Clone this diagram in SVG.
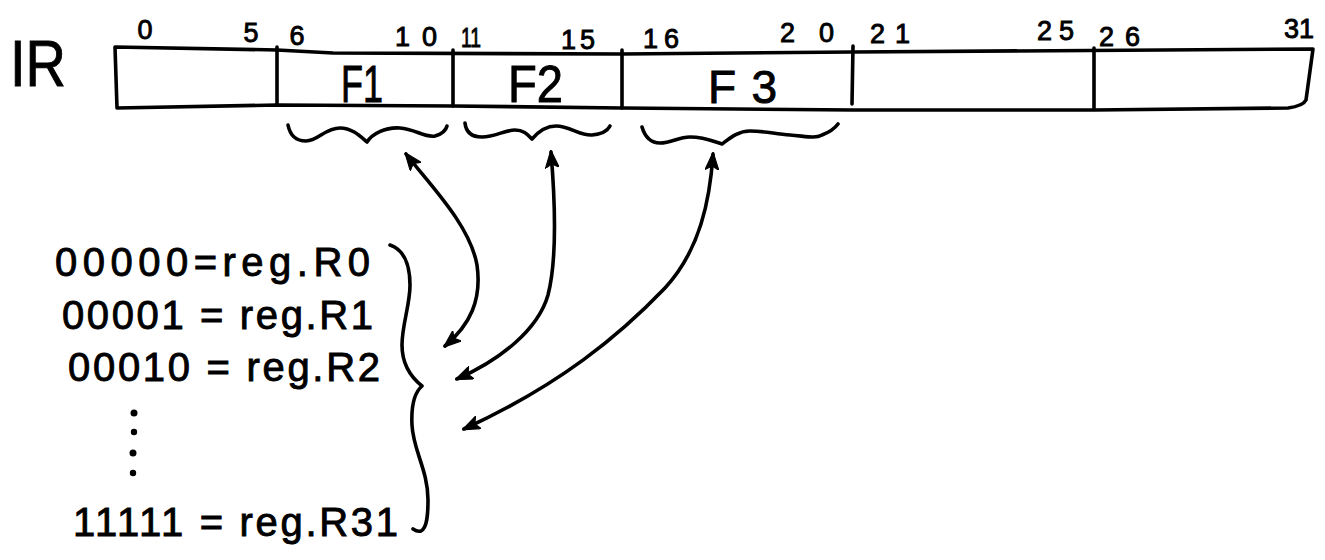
<svg xmlns="http://www.w3.org/2000/svg" width="1325" height="560" viewBox="0 0 1325 560">
<style>
.ln{fill:none;stroke:#000;stroke-width:3.6;stroke-linecap:round;stroke-linejoin:round}
.t{font-family:"Liberation Sans","DejaVu Sans",sans-serif;fill:#000;stroke:#000;stroke-width:0.9}
.bit{font-size:27px}
.row{font-size:40px}
.fld{font-size:52px}
</style>
<defs>
<marker id="ah" viewBox="0 0 18 14" refX="16" refY="7" markerWidth="18" markerHeight="14" markerUnits="userSpaceOnUse" orient="auto-start-reverse">
<path d="M0,0 L18,7 L0,14 L4,7 z" fill="#000" stroke="#000" stroke-width="1"/>
</marker>
</defs>
<rect width="1325" height="560" fill="#fff"/>
<g id="ir">
<text class="t" x="10" y="86" font-size="64" textLength="56" lengthAdjust="spacingAndGlyphs">IR</text>
<path class="ln" d="M115,47 L277,50 L333,53 L622,54 L853,52 L1313,49 L1306,100 Q1303,106 1288,108 L1094,110 L853,110 L622,108 L453,106 L277,105 L117,108 Z"/>
<path class="ln" d="M277,47 L277,105 M453,50 L453,106 M622,50 L622,108 M853,46 L852,104 M1094,48 L1094,108"/>
<g class="t bit">
<text x="145" y="39" text-anchor="middle">0</text>
<text x="251" y="42" text-anchor="middle">5</text>
<text x="297" y="45" text-anchor="middle">6</text>
<text x="395" y="46" textLength="42" lengthAdjust="spacing">10</text>
<text x="461" y="47" textLength="20" lengthAdjust="spacingAndGlyphs">11</text>
<text x="561" y="49" textLength="34" lengthAdjust="spacing">15</text>
<text x="643" y="48" textLength="36" lengthAdjust="spacing">16</text>
<text x="780" y="42" textLength="54" lengthAdjust="spacing">20</text>
<text x="870" y="43" textLength="40" lengthAdjust="spacing">21</text>
<text x="1037" y="40" textLength="37" lengthAdjust="spacing">25</text>
<text x="1099" y="46" textLength="41" lengthAdjust="spacing">26</text>
<text x="1284" y="38" textLength="30" lengthAdjust="spacing">31</text>
</g>
</g>
<g id="f1">
<text class="t fld" x="341" y="102" textLength="42" lengthAdjust="spacingAndGlyphs">F1</text>
<path class="ln" d="M288,125 C290,135 296,141 306,141 C318,141 325,128 340,128 C352,128 360,136 367,142 C372,134 385,127 400,128 C415,129 425,138 435,136 C442,134 446,130 447,126"/>
</g>
<g id="f2">
<text class="t fld" x="508" y="102" textLength="55" lengthAdjust="spacingAndGlyphs">F2</text>
<path class="ln" d="M465,123 C466,132 472,137 482,137 C495,137 505,130 515,130 C524,130 528,135 532,139 C538,132 545,126 556,126 C570,126 580,136 592,135 C603,134 608,130 610,126"/>
</g>
<g id="f3">
<text class="t" x="708" y="103" font-size="46" textLength="69" lengthAdjust="spacing">F3</text>
<path class="ln" d="M642,127 C645,137 650,143 660,143 C672,143 678,137 690,137 C705,137 715,142 722,144 C730,138 738,131 750,131 C765,131 775,134 790,135 C805,136 815,139 822,135 C830,132 835,128 838,124"/>
</g>
<g id="registers">
<text class="t row" x="55" y="276" textLength="315" lengthAdjust="spacing">00000=reg.R0</text>
<text class="t row" x="62" y="329" textLength="311" lengthAdjust="spacing">00001 = reg.R1</text>
<text class="t row" x="68" y="381" textLength="312" lengthAdjust="spacing">00010 = reg.R2</text>
<g fill="#000">
<circle cx="134" cy="413" r="3.5"/>
<circle cx="134" cy="432" r="3.2"/>
<circle cx="133" cy="453" r="3.5"/>
<circle cx="133" cy="473" r="3.2"/>
</g>
<text class="t row" x="73" y="536" textLength="325" lengthAdjust="spacing">11111 = reg.R31</text>
<path class="ln" d="M390,245 C402,249 410,262 410,285 C410,305 402,325 402,345 C402,365 412,378 422,386 C414,393 411,405 412,425 C413,450 428,470 428,500 C428,515 427,528 421,531 C418,532 416,531 413,529"/>
</g>
<g id="connectors" class="ln" marker-start="url(#ah)" marker-end="url(#ah)">
<path d="M406,154 C430,185 470,225 477,265 C482,300 470,325 445,346"/>
<path d="M551,152 C555,200 557,260 548,295 C538,330 500,360 457,379"/>
<path d="M713,154 C710,200 700,250 665,288 C620,335 560,385 464,429"/>
</g>
</svg>
